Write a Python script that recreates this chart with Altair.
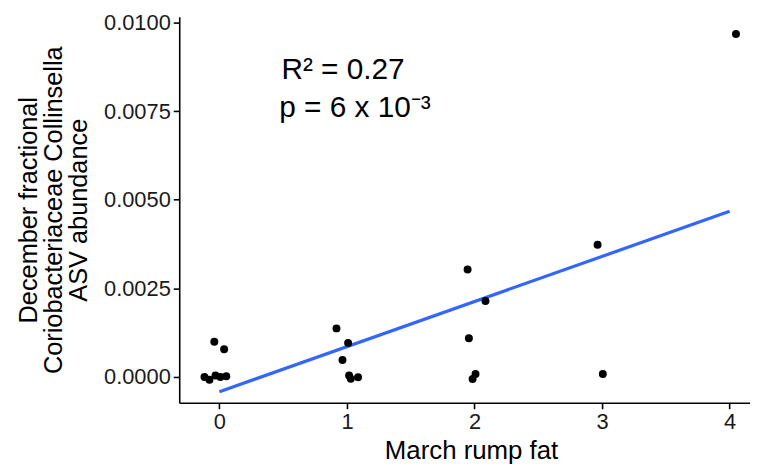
import altair as alt
import pandas as pd

# jittered positions as drawn
rump_fat = [-0.04, 0.037, -0.117, -0.078, -0.031, 0.008, 0.054,
            0.918, 1.009, 0.965, 1.017, 1.03, 1.087,
            1.946, 2.086, 1.956, 1.985, 2.008,
            2.965, 3.006,
            4.05]
abundance = [0.00099, 0.00078, 0.0, -0.00008, 0.00004, 0.0, 0.00002,
             0.00137, 0.00096, 0.00048, 0.00004, -0.00005, -0.00001,
             0.00303, 0.00214, 0.00109, -0.00006, 0.00008,
             0.00373, 0.00008,
             0.00968]

annot_lines = ["R² = 0.27", "p = 6 x 10⁻³"]
x_ticks = [0, 1, 2, 3, 4]
y_ticks = [0, 0.0025, 0.005, 0.0075, 0.01]

df = pd.DataFrame({"x": rump_fat, "y": abundance})

FONT = "Liberation Sans"
x_scale = alt.Scale(domain=[-0.315, 4.16], nice=False, zero=False)
y_scale = alt.Scale(domain=[-0.00073, 0.010168], nice=False, zero=False)

x_axis = alt.Axis(values=x_ticks, format="d", title="March rump fat", titleX=294,
                  titleFontSize=26)
y_axis = alt.Axis(values=y_ticks, format=".4f", titleFontSize=25.5,
                  title=["December fractional", "Coriobacteriaceae Collinsella", "ASV abundance"])

points = alt.Chart(df).mark_circle(size=64, color="black", opacity=1).encode(
    x=alt.X("x:Q", scale=x_scale, axis=x_axis),
    y=alt.Y("y:Q", scale=y_scale, axis=y_axis),
)

line = alt.Chart(df).transform_calculate(
    xr="round(datum.x)"
).transform_regression("xr", "y", extent=[0, 4]).mark_line(
    color="#3366FF", strokeWidth=3.2
).encode(
    x=alt.X("xr:Q", scale=x_scale, axis=x_axis),
    y=alt.Y("y:Q", scale=y_scale, axis=y_axis),
)

ann1 = alt.Chart(pd.DataFrame({"t": [annot_lines[0]]})).mark_text(
    font=FONT, fontSize=30, color="black", align="center", baseline="alphabetic"
).encode(text="t:N", x=alt.value(165), y=alt.value(63))
ann2 = alt.Chart(pd.DataFrame({"t": [annot_lines[1]]})).mark_text(
    font=FONT, fontSize=30, color="black", align="center", baseline="alphabetic"
).encode(text="t:N", x=alt.value(177), y=alt.value(101))

chart = alt.layer(line, points, ann1, ann2).properties(
    width=575, height=389,
    padding={"left": 172.5, "top": 7, "right": 0, "bottom": 65},
    autosize=alt.AutoSizeParams(type="none"),
).configure_view(stroke=None).configure_axis(
    grid=False, domainColor="black", domainWidth=1.6, tickColor="black", tickWidth=1.6,
    tickSize=6, labelFont=FONT, titleFont=FONT, labelFontSize=22,
    labelColor="#1a1a1a", titleColor="black", titleFontWeight="normal", labelPadding=3,
).configure_axisY(titlePadding=12, titleLineHeight=25).configure_axisX(titlePadding=5)

chart.save("out.html", embed_options={"renderer": "svg", "actions": False})
